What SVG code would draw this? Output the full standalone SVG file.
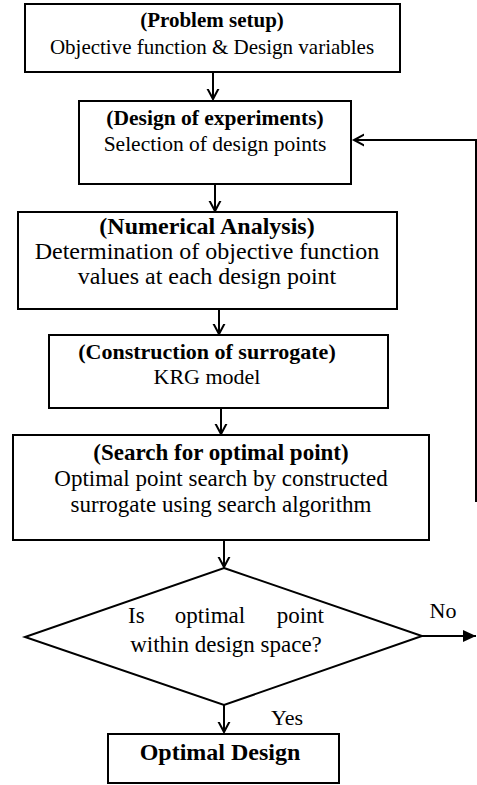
<svg xmlns="http://www.w3.org/2000/svg" width="477" height="785" viewBox="0 0 477 785">
  <defs>
    <style>
      .box { fill: #fff; stroke: #000; stroke-width: 2; }
      .link { fill: none; stroke: #000; stroke-width: 2; }
      text { font-family: "Liberation Serif", "Times New Roman", serif; fill: #000; font-size: 21px; }
      .c { text-anchor: middle; }
      .b { font-weight: bold; }
    </style>
    <marker id="vee" viewBox="-10 -10 20 20" markerWidth="20" markerHeight="20" refX="0" refY="0" orient="auto" markerUnits="userSpaceOnUse">
      <path d="M-15,-8 L0,0 L-15,8" fill="none" stroke="#000" stroke-width="2"/>
    </marker>
    <marker id="solid" viewBox="-14 -8 16 16" markerWidth="16" markerHeight="16" refX="0" refY="0" orient="auto" markerUnits="userSpaceOnUse">
      <path d="M-13,-6 L0,0 L-13,6 Z" fill="#000"/>
    </marker>
  </defs>

  <rect width="477" height="785" fill="#fff"/>

  <g id="connectors">
    <line class="link" x1="213" y1="72" x2="213" y2="99" marker-end="url(#vee)"/>
    <line class="link" x1="215" y1="184" x2="215" y2="211" marker-end="url(#vee)"/>
    <line class="link" x1="219" y1="309" x2="219" y2="334" marker-end="url(#vee)"/>
    <line class="link" x1="221" y1="408" x2="221" y2="434" marker-end="url(#vee)"/>
    <line class="link" x1="224" y1="540" x2="224" y2="567" marker-end="url(#vee)"/>
    <line class="link" x1="224" y1="705" x2="224" y2="732" marker-end="url(#vee)"/>
    <!-- "No" exit -->
    <line class="link" x1="422" y1="636" x2="476" y2="636" marker-end="url(#solid)"/>
    <!-- feedback loop back to design of experiments -->
    <polyline class="link" points="476,502 476,140 354,140" marker-end="url(#vee)"/>
    <text x="443" y="618" class="c" style="font-size:22px">No</text>
    <text x="287" y="725" class="c" style="font-size:22px">Yes</text>
  </g>

  <g id="problem-setup">
    <rect class="box" x="25" y="4" width="375" height="68"/>
    <text x="212" y="27" class="c b">(Problem setup)</text>
    <text x="212" y="54" class="c">Objective function &amp; Design variables</text>
  </g>

  <g id="design-of-experiments">
    <rect class="box" x="79" y="101" width="272" height="83"/>
    <text x="215" y="125" class="c b" style="font-size:21.5px">(Design of experiments)</text>
    <text x="215" y="151" class="c" style="font-size:21.5px">Selection of design points</text>
  </g>

  <g id="numerical-analysis">
    <rect class="box" x="18" y="212" width="379" height="97"/>
    <text x="207" y="234" class="c b" style="font-size:24px">(Numerical Analysis)</text>
    <text x="207" y="259" class="c" style="font-size:24px">Determination of objective function</text>
    <text x="207" y="284" class="c" style="font-size:24px">values at each design point</text>
  </g>

  <g id="construction-of-surrogate">
    <rect class="box" x="49" y="335" width="339" height="73"/>
    <text x="207" y="359" class="c b" style="font-size:22px">(Construction of surrogate)</text>
    <text x="207" y="384" class="c" style="font-size:22px">KRG model</text>
  </g>

  <g id="search-optimal-point">
    <rect class="box" x="13" y="435" width="416" height="105"/>
    <text x="221" y="460" class="c b" style="font-size:23px">(Search for optimal point)</text>
    <text x="221" y="486" class="c" style="font-size:23px">Optimal point search by constructed</text>
    <text x="221" y="512" class="c" style="font-size:23px">surrogate using search algorithm</text>
  </g>

  <g id="decision">
    <polygon class="box" points="224,568 422,636 224,705 25,637"/>
    <text x="128" y="623" style="font-size:23px">Is</text>
    <text x="210" y="623" class="c" style="font-size:23px">optimal</text>
    <text x="324" y="623" style="font-size:23px;text-anchor:end">point</text>
    <text x="226" y="652" class="c" style="font-size:23px">within design space?</text>
  </g>

  <g id="optimal-design">
    <rect class="box" x="108" y="734" width="231" height="49"/>
    <text x="220" y="760" class="c b" style="font-size:24px">Optimal Design</text>
  </g>
</svg>
